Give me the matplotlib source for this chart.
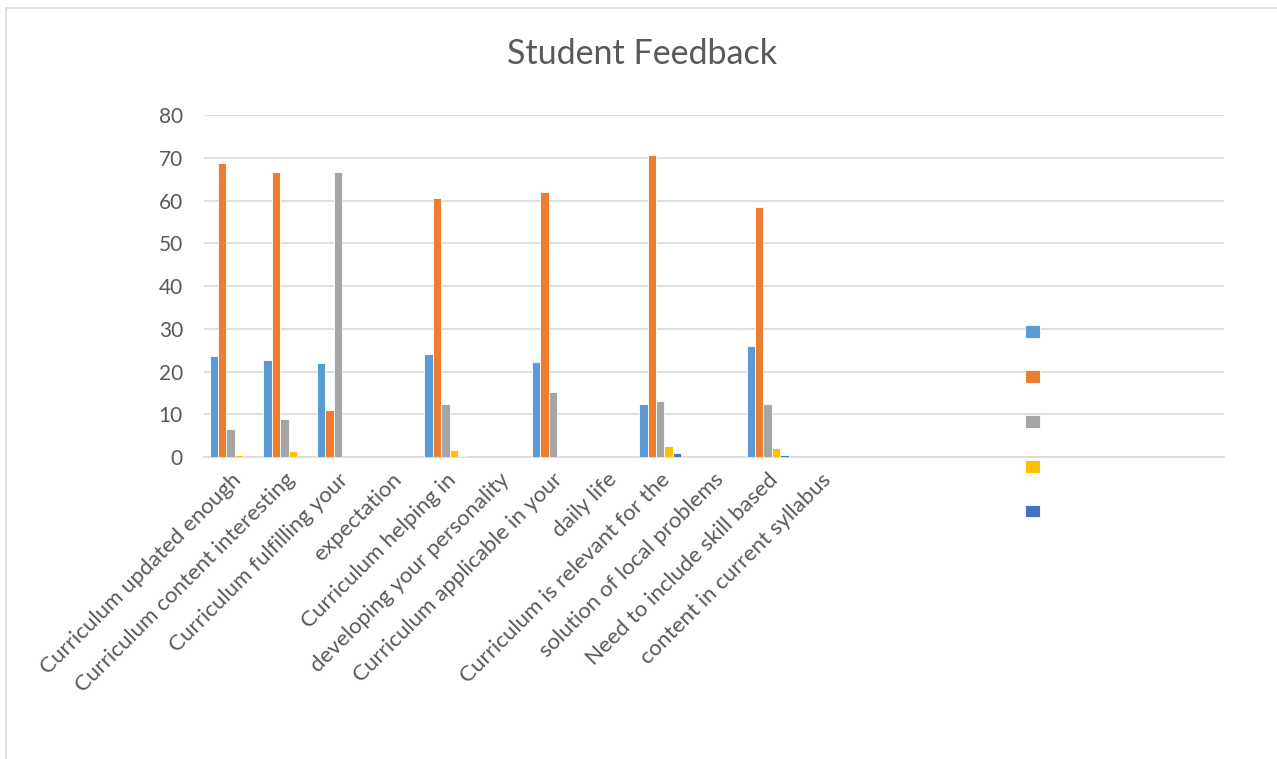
import numpy as np
import matplotlib
matplotlib.use("Agg")
import matplotlib.pyplot as plt
from matplotlib.lines import Line2D

categories = [
    "Curriculum updated enough",
    "Curriculum content interesting",
    "Curriculum fulfilling your",
    "expectation",
    "Curriculum helping in",
    "developing your personality",
    "Curriculum applicable in your",
    "daily life",
    "Curriculum is relevant for the",
    "solution of local problems",
    "Need to include skill based",
    "content in current syllabus",
    "", "", "", "", "", "", "",
]
nan = np.nan
series1 = [23.7, 22.8, 21.9, nan, 24.2, nan, 22.3, nan, 12.5, nan, 26.0, nan] + [nan] * 7
series2 = [68.8, 66.7, 11.1, nan, 60.7, nan, 62.1, nan, 70.6, nan, 58.5, nan] + [nan] * 7
series3 = [6.6, 8.8, 66.7, nan, 12.5, nan, 15.1, nan, 13.0, nan, 12.5, nan] + [nan] * 7
series4 = [0.4, 1.3, 0, nan, 1.7, nan, 0, nan, 2.6, nan, 2.2, nan] + [nan] * 7
series5 = [0, 0, 0, nan, 0.2, nan, 0, nan, 0.86, nan, 0.4, nan] + [nan] * 7
series = [series1, series2, series3, series4, series5]
colors = ["#5B9BD5", "#ED7D31", "#A5A5A5", "#FFC000", "#4472C4"]
yticks = [0, 10, 20, 30, 40, 50, 60, 70, 80]
title = "Student Feedback"

plt.rcParams['font.family'] = ['Lato', 'DejaVu Sans']
W, H = 1277, 759
fig = plt.figure(figsize=(W / 100, H / 100), dpi=100)
ax = fig.add_axes([203.8 / W, 1 - 457 / H, (1224 - 203.8) / W, (457 - 115) / H])

x = np.arange(len(categories))
bw = 0.157
handles = []
for i, (vals, c) in enumerate(zip(series, colors)):
    b = ax.bar(x + (i - 2) * bw, np.array(vals, dtype=float), width=bw, color=c,
               edgecolor="white", linewidth=0.6, zorder=3)
    handles.append(b)

ax.set_xlim(-0.5, len(categories) - 0.5)
ax.set_ylim(0, 80)
ax.set_yticks(yticks)
ax.set_yticklabels([str(t) for t in yticks])
ax.yaxis.grid(True, color="#D9D9D9", linewidth=1.2, zorder=0)
ax.set_axisbelow(True)
for s in ["top", "right", "left"]:
    ax.spines[s].set_visible(False)
ax.spines["bottom"].set_color("#D9D9D9")
ax.spines["bottom"].set_linewidth(1.2)
ax.tick_params(axis="y", length=0, pad=15, labelsize=15, labelcolor="#595959")
ax.tick_params(axis="x", length=0, pad=9, labelsize=16, labelcolor="#595959")
ax.set_xticks(x)
ax.set_xticklabels(categories, rotation=45, ha="right", rotation_mode="anchor")

fig.text(642 / W, 1 - 54 / H, title, ha="center", va="center", fontsize=24.5, color="#595959")

leg = ax.legend(handles, [""] * 5, loc="upper left",
                bbox_to_anchor=(1014 / W, 1 - 314 / H), bbox_transform=fig.transFigure,
                frameon=False, fontsize=10.3, handlelength=1.0, handleheight=1.0,
                labelspacing=2.2, handletextpad=0.2, borderpad=0.3)

fig.add_artist(Line2D([6 / W, 6 / W], [0, 1 - 8 / H], color="#D9D9D9", linewidth=1.2, transform=fig.transFigure))
fig.add_artist(Line2D([6 / W, 1], [1 - 8 / H, 1 - 8 / H], color="#D9D9D9", linewidth=1.2, transform=fig.transFigure))

fig.savefig("out.png", dpi=100, facecolor="white")
